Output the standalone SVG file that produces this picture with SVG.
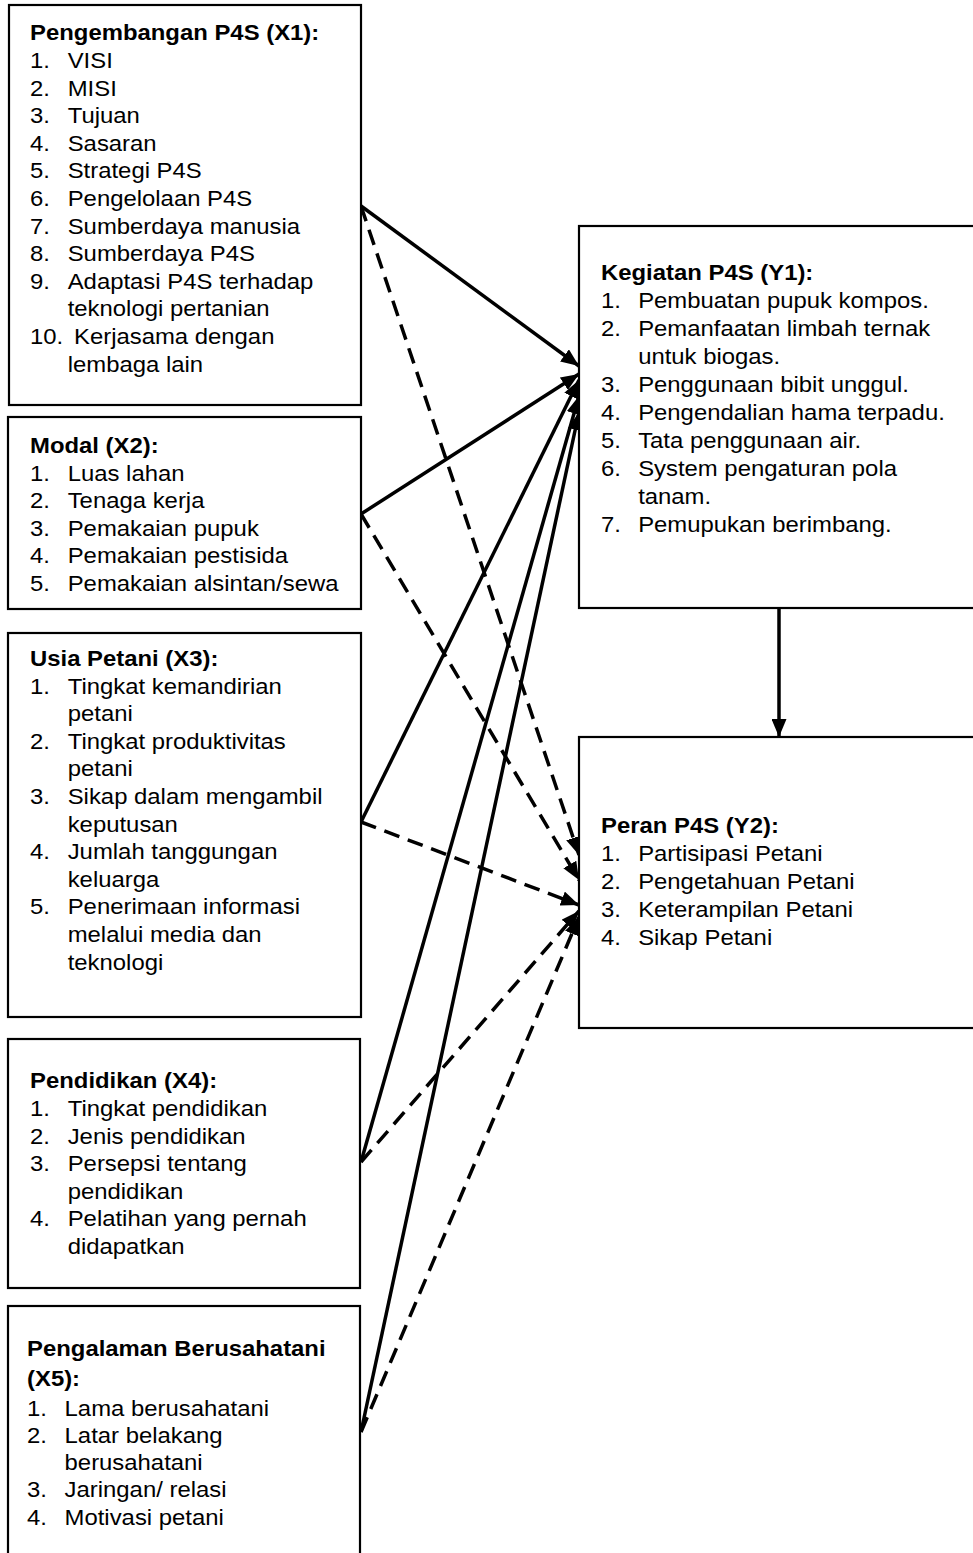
<svg xmlns="http://www.w3.org/2000/svg" width="973" height="1553" viewBox="0 0 973 1553">
<style>
.box{fill:#fff;stroke:#000;stroke-width:2.2}
text{font-family:"Liberation Sans",Arial,sans-serif;font-size:22px;fill:#000}
.h{font-weight:bold}
.ln{stroke:#000;stroke-width:3.5;fill:none}
.dash{stroke-dasharray:16 9}
</style>
<defs>
<marker id="ah" markerUnits="userSpaceOnUse" markerWidth="18" markerHeight="15" viewBox="0 0 18 15" refX="18" refY="7.5" orient="auto">
<path d="M0,0 L18,7.5 L0,15 z" fill="#000"/>
</marker>
</defs>
<rect x="0" y="0" width="973" height="1553" fill="#fff"/>
<g id="connectors">
<path class="ln" d="M361,206 L579,366" marker-end="url(#ah)"/>
<path class="ln" d="M361,514 L579,374" marker-end="url(#ah)"/>
<path class="ln" d="M361,822 L579,380" marker-end="url(#ah)"/>
<path class="ln" d="M361,1162 L579,396" marker-end="url(#ah)"/>
<path class="ln" d="M361,1432 L579,412" marker-end="url(#ah)"/>
<path class="ln dash" d="M361,206 L579,855" marker-end="url(#ah)"/>
<path class="ln dash" d="M361,514 L579,880" marker-end="url(#ah)"/>
<path class="ln dash" d="M361,822 L579,905" marker-end="url(#ah)"/>
<path class="ln dash" d="M361,1162 L579,911" marker-end="url(#ah)"/>
<path class="ln dash" d="M361,1432 L579,917" marker-end="url(#ah)"/>
<path class="ln" d="M779,609 L779,737" marker-end="url(#ah)"/>
</g>
<g id="x1">
<rect class="box" x="9" y="5" width="352" height="400"/>
<g transform="translate(30 0) scale(1.086 1)">
<text class="h" x="0" y="40">Pengembangan P4S (X1):</text>
<text y="68"><tspan x="0">1.</tspan><tspan x="34.7">VISI</tspan></text>
<text y="95.6"><tspan x="0">2.</tspan><tspan x="34.7">MISI</tspan></text>
<text y="123.2"><tspan x="0">3.</tspan><tspan x="34.7">Tujuan</tspan></text>
<text y="150.8"><tspan x="0">4.</tspan><tspan x="34.7">Sasaran</tspan></text>
<text y="178.4"><tspan x="0">5.</tspan><tspan x="34.7">Strategi P4S</tspan></text>
<text y="206"><tspan x="0">6.</tspan><tspan x="34.7">Pengelolaan P4S</tspan></text>
<text y="233.6"><tspan x="0">7.</tspan><tspan x="34.7">Sumberdaya manusia</tspan></text>
<text y="261.2"><tspan x="0">8.</tspan><tspan x="34.7">Sumberdaya P4S</tspan></text>
<text y="288.8"><tspan x="0">9.</tspan><tspan x="34.7">Adaptasi P4S terhadap</tspan></text>
<text x="34.7" y="316.4">teknologi pertanian</text>
<text y="344"><tspan x="0">10.</tspan><tspan x="40.5">Kerjasama dengan</tspan></text>
<text x="34.7" y="371.6">lembaga lain</text>
</g>
</g>
<g id="x2">
<rect class="box" x="8" y="417" width="353" height="192"/>
<g transform="translate(30 0) scale(1.086 1)">
<text class="h" x="0" y="453">Modal (X2):</text>
<text y="481"><tspan x="0">1.</tspan><tspan x="34.7">Luas lahan</tspan></text>
<text y="508.5"><tspan x="0">2.</tspan><tspan x="34.7">Tenaga kerja</tspan></text>
<text y="536"><tspan x="0">3.</tspan><tspan x="34.7">Pemakaian pupuk</tspan></text>
<text y="563.5"><tspan x="0">4.</tspan><tspan x="34.7">Pemakaian pestisida</tspan></text>
<text y="591"><tspan x="0">5.</tspan><tspan x="34.7">Pemakaian alsintan/sewa</tspan></text>
</g>
</g>
<g id="x3">
<rect class="box" x="8" y="633" width="353" height="384"/>
<g transform="translate(30 0) scale(1.086 1)">
<text class="h" x="0" y="666">Usia Petani (X3):</text>
<text y="693.6"><tspan x="0">1.</tspan><tspan x="34.7">Tingkat kemandirian</tspan></text>
<text x="34.7" y="721.2">petani</text>
<text y="748.8"><tspan x="0">2.</tspan><tspan x="34.7">Tingkat produktivitas</tspan></text>
<text x="34.7" y="776.4">petani</text>
<text y="804"><tspan x="0">3.</tspan><tspan x="34.7">Sikap dalam mengambil</tspan></text>
<text x="34.7" y="831.6">keputusan</text>
<text y="859.2"><tspan x="0">4.</tspan><tspan x="34.7">Jumlah tanggungan</tspan></text>
<text x="34.7" y="886.8">keluarga</text>
<text y="914.4"><tspan x="0">5.</tspan><tspan x="34.7">Penerimaan informasi</tspan></text>
<text x="34.7" y="942">melalui media dan</text>
<text x="34.7" y="969.6">teknologi</text>
</g>
</g>
<g id="x4">
<rect class="box" x="8" y="1039" width="352" height="249"/>
<g transform="translate(30 0) scale(1.086 1)">
<text class="h" x="0" y="1088">Pendidikan (X4):</text>
<text y="1116"><tspan x="0">1.</tspan><tspan x="34.7">Tingkat pendidikan</tspan></text>
<text y="1143.6"><tspan x="0">2.</tspan><tspan x="34.7">Jenis pendidikan</tspan></text>
<text y="1171.2"><tspan x="0">3.</tspan><tspan x="34.7">Persepsi tentang</tspan></text>
<text x="34.7" y="1198.8">pendidikan</text>
<text y="1226.4"><tspan x="0">4.</tspan><tspan x="34.7">Pelatihan yang pernah</tspan></text>
<text x="34.7" y="1254">didapatkan</text>
</g>
</g>
<g id="x5">
<rect class="box" x="8" y="1306" width="352" height="270"/>
<g transform="translate(27 0) scale(1.086 1)">
<text class="h" x="0" y="1356">Pengalaman Berusahatani</text>
<text class="h" x="0" y="1386">(X5):</text>
<text y="1416"><tspan x="0">1.</tspan><tspan x="34.6">Lama berusahatani</tspan></text>
<text y="1443"><tspan x="0">2.</tspan><tspan x="34.6">Latar belakang</tspan></text>
<text x="34.6" y="1470">berusahatani</text>
<text y="1497.5"><tspan x="0">3.</tspan><tspan x="34.6">Jaringan/ relasi</tspan></text>
<text y="1525"><tspan x="0">4.</tspan><tspan x="34.6">Motivasi petani</tspan></text>
</g>
</g>
<g id="y1">
<rect class="box" x="579" y="226" width="420" height="382"/>
<g transform="translate(601 0) scale(1.086 1)">
<text class="h" x="0" y="280">Kegiatan P4S (Y1):</text>
<text y="308"><tspan x="0">1.</tspan><tspan x="34.2">Pembuatan pupuk kompos.</tspan></text>
<text y="336"><tspan x="0">2.</tspan><tspan x="34.2">Pemanfaatan limbah ternak</tspan></text>
<text x="34.2" y="364">untuk biogas.</text>
<text y="392"><tspan x="0">3.</tspan><tspan x="34.2">Penggunaan bibit unggul.</tspan></text>
<text y="420"><tspan x="0">4.</tspan><tspan x="34.2">Pengendalian hama terpadu.</tspan></text>
<text y="448"><tspan x="0">5.</tspan><tspan x="34.2">Tata penggunaan air.</tspan></text>
<text y="476"><tspan x="0">6.</tspan><tspan x="34.2">System pengaturan pola</tspan></text>
<text x="34.2" y="504">tanam.</text>
<text y="532"><tspan x="0">7.</tspan><tspan x="34.2">Pemupukan berimbang.</tspan></text>
</g>
</g>
<g id="y2">
<rect class="box" x="579" y="737" width="420" height="291"/>
<g transform="translate(601 0) scale(1.086 1)">
<text class="h" x="0" y="833">Peran P4S (Y2):</text>
<text y="861"><tspan x="0">1.</tspan><tspan x="34.2">Partisipasi Petani</tspan></text>
<text y="889"><tspan x="0">2.</tspan><tspan x="34.2">Pengetahuan Petani</tspan></text>
<text y="917"><tspan x="0">3.</tspan><tspan x="34.2">Keterampilan Petani</tspan></text>
<text y="945"><tspan x="0">4.</tspan><tspan x="34.2">Sikap Petani</tspan></text>
</g>
</g>
</svg>
